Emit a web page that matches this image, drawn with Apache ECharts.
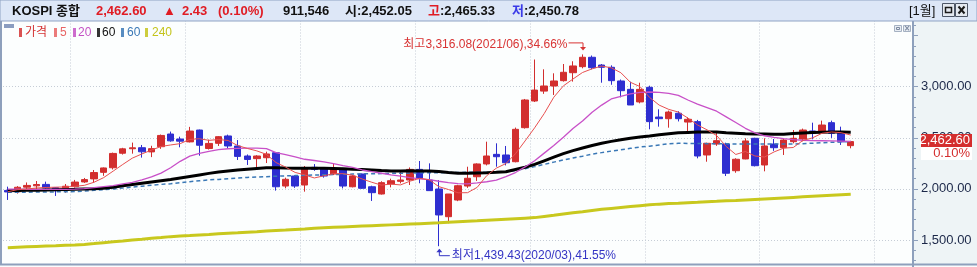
<!DOCTYPE html>
<html><head><meta charset="utf-8">
<script src="https://cdn.jsdelivr.net/npm/echarts@6/dist/echarts.min.js"></script>
<style>html,body{margin:0;padding:0;background:#fff;}#c{width:977px;height:267px;}</style>
</head><body><div id="c"></div>
<script>
// ---------- data (monthly KOSPI, 2016/06 .. 2023/10) ----------
const months = [
 '2016/06','2016/07','2016/08','2016/09','2016/10','2016/11','2016/12',
 '2017/01','2017/02','2017/03','2017/04','2017/05','2017/06','2017/07','2017/08','2017/09','2017/10','2017/11','2017/12',
 '2018/01','2018/02','2018/03','2018/04','2018/05','2018/06','2018/07','2018/08','2018/09','2018/10','2018/11','2018/12',
 '2019/01','2019/02','2019/03','2019/04','2019/05','2019/06','2019/07','2019/08','2019/09','2019/10','2019/11','2019/12',
 '2020/01','2020/02','2020/03','2020/04','2020/05','2020/06','2020/07','2020/08','2020/09','2020/10','2020/11','2020/12',
 '2021/01','2021/02','2021/03','2021/04','2021/05','2021/06','2021/07','2021/08','2021/09','2021/10','2021/11','2021/12',
 '2022/01','2022/02','2022/03','2022/04','2022/05','2022/06','2022/07','2022/08','2022/09','2022/10','2022/11','2022/12',
 '2023/01','2023/02','2023/03','2023/04','2023/05','2023/06','2023/07','2023/08','2023/09','2023/10'];
const emptyMonths = ['2023/11','2023/12','2024/01','2024/02','2024/03','2024/04'];
const opens = [1985,1971,2017,2030,2044,2012,1985,2022,2068,2098,
 2162,2207,2349,2393,2403,2362,2413,2537,2488,2460,
 2576,2395,2446,2518,2420,2322,2296,2305,2354,2028,
 2126,2038,2211,2201,2146,2191,2021,2146,2021,1950,
 2048,2074,2087,2191,2087,1999,1728,1891,2028,2119,
 2244,2338,2332,2266,2599,2860,2957,3007,3059,3137,
 3196,3288,3212,3190,3056,2974,2851,2994,2703,2687,
 2740,2654,2658,2332,2439,2439,2178,2293,2495,2234,
 2439,2403,2462,2488,2567,2567,2648,2544,2423];
const highs = [2022,2027,2063,2077,2071,2015,2048,2088,2107,2185,
 2210,2355,2402,2453,2430,2422,2532,2561,2511,2607,
 2580,2482,2517,2531,2478,2337,2330,2364,2356,2110,
 2135,2224,2243,2210,2252,2205,2135,2150,2031,2075,
 2100,2168,2210,2273,2250,2087,1950,2040,2217,2250,
 2462,2446,2420,2600,2880,3266,3170,3131,3222,3249,
 3316.08,3305,3222,3209,3070,3049,3039,3010,2779,2766,
 2760,2701,2675,2452,2550,2452,2300,2495,2500,2495,
 2488,2489,2576,2590,2648,2668,2668,2609,2470];
const lows = [1892,1954,1983,1993,2000,1931,1963,2012,2059,2061,
 2128,2190,2336,2345,2306,2311,2392,2462,2407,2455,
 2325,2385,2420,2395,2283,2234,2204,2253,1983,2006,
 2010,1973,2177,2110,2135,2005,2015,2000,1882,1945,
 2015,2054,2038,2055,1983,1439.43,1664,1880,2010,2078,
 2230,2217,2230,2260,2590,2850,2930,2919,3050,3050,
 3180,3170,3039,3019,2896,2821,2837,2583,2609,2599,
 2660,2544,2299,2266,2421,2126,2158,2290,2220,2172,
 2372,2332,2446,2465,2485,2544,2499,2430,2397];
const closes = [1970,2016,2034,2043,2008,1983,2026,2067,2091,2160,
 2205,2347,2392,2402,2363,2394,2523,2470,2467,2566,
 2427,2445,2511,2420,2318,2288,2322,2342,2021,2094,
 2028,2201,2190,2126,2201,2028,2126,2006,1963,2061,
 2080,2087,2191,2103,1983,1745,1950,2031,2104,2244,
 2322,2315,2256,2583,2870,2967,3007,3056,3141,3203,
 3288,3186,3190,3059,2961,2821,2974,2658,2687,2752,
 2687,2681,2322,2446,2472,2153,2290,2469,2227,2420,
 2403,2478,2495,2576,2544,2625,2544,2460,2462.60];
const ma5 = [1972,1992,1999,2009,2014,2017,2019,2025,2035,2065,
 2110,2174,2239,2301,2342,2380,2415,2430,2443,2484,
 2491,2475,2483,2474,2424,2396,2372,2338,2258,2213,
 2161,2137,2107,2128,2149,2149,2134,2097,2065,2037,
 2047,2039,2076,2104,2089,2022,1994,1962,1963,2015,
 2130,2203,2248,2344,2469,2598,2737,2897,3008,3075,
 3139,3175,3202,3185,3137,3043,3001,2895,2820,2778,
 2752,2693,2626,2578,2522,2415,2337,2366,2322,2312,
 2362,2399,2405,2474,2499,2544,2557,2550,2527];
const ma20 = [1998,1997,1996,1996,1996,1996,1996,1997,2003,2012,
 2022,2032,2049,2064,2088,2118,2155,2207,2270,2320,
 2348,2368,2384,2393,2397,2398,2398,2394,2355,2335,
 2314,2290,2278,2264,2247,2228,2210,2185,2168,2153,
 2138,2125,2110,2098,2090,2075,2062,2052,2050,2058,
 2070,2085,2120,2160,2215,2275,2350,2425,2505,2590,
 2665,2750,2820,2880,2905,2930,2945,2948,2945,2935,
 2915,2870,2830,2795,2760,2705,2650,2593,2548,2520,
 2505,2492,2482,2476,2472,2471,2470,2468,2465];
const ma60 = [1982,1984,1986,1988,1990,1992,1994,1996,1999,2002,
 2006,2017,2030,2043,2056,2068,2080,2092,2107,2122,
 2137,2152,2165,2175,2184,2192,2200,2206,2206,2204,
 2203,2203,2203,2202,2200,2197,2193,2190,2186,2180,
 2176,2174,2178,2176,2175,2170,2160,2153,2152,2155,
 2158,2162,2168,2190,2212,2240,2275,2310,2345,2375,
 2400,2425,2447,2465,2480,2495,2508,2518,2530,2540,
 2550,2553,2556,2557,2556,2550,2545,2540,2538,2536,
 2534,2534,2542,2548,2552,2555,2557,2556,2554];
const ma60b = [1967,1967,1968,1969,1970,1971,1972,1974,1978,1986,
 1993,1999,2008,2018,2027,2036,2044,2050,2060,2070,
 2080,2088,2093,2100,2107,2112,2116,2120,2124,2127,
 2130,2133,2136,2138,2140,2143,2145,2147,2148,2150,
 2152,2153,2155,2157,2158,2159,2160,2161,2162,2163,
 2164,2164,2165,2180,2198,2218,2240,2262,2283,2302,
 2320,2340,2355,2370,2383,2397,2410,2418,2430,2442,
 2446,2445,2444,2443,2442,2441,2440,2439,2439,2439,
 2439,2439,2439,2442,2447,2452,2456,2460,2463];
const ma240 = [1425,1429,1433,1437,1441,1444,1448,1452,1457,1465,
 1474,1482,1490,1499,1507,1516,1524,1533,1538,1543,
 1549,1554,1560,1565,1570,1576,1581,1587,1592,1597,
 1603,1608,1614,1619,1624,1628,1632,1636,1640,1644,
 1648,1652,1656,1660,1664,1668,1673,1678,1683,1688,
 1694,1699,1704,1709,1714,1719,1731,1742,1754,1766,
 1777,1789,1800,1809,1818,1827,1836,1845,1851,1856,
 1860,1865,1869,1874,1878,1883,1887,1892,1897,1902,
 1907,1912,1917,1922,1927,1932,1937,1942,1947];
const yTickLabels = [1500, 2000, 2500, 3000];
const lastPrice = 2462.60, change = 2.43, changePct = 0.10, volume = 911546;
const dayOpen = 2452.05, dayHigh = 2465.33, dayLow = 2450.78;
const title = 'KOSPI 종합', period = '[1월]';
const legendItems = [['가격','#d43434'],['5','#e86464'],['20','#c452c4'],['60','#111111'],['60','#3a78b6'],['240','#c4c41c']];

// ---------- chart ----------
const fmt = v => Number(v).toLocaleString('en-US',{minimumFractionDigits:2,maximumFractionDigits:2});
const cats = months.concat(emptyMonths);
const candle = months.map((m,i)=>[opens[i], closes[i], lows[i], highs[i]]);
const Y0 = 1000, Y1 = 4000, YI = 500;
const pxPerUnit = (240 - 86.7) / 1500;
const gridTop = 86.7 - (Y1 - 3000) * pxPerUnit;
const gridBottom = 267 - (240 + (1500 - Y0) * pxPerUnit);
const GRIDC = '#c6cdd6', TRANSP = 'rgba(0,0,0,0)';
const splitColors = [];
for (let v = Y0; v <= Y1; v += YI) splitColors.push(yTickLabels.includes(v) ? GRIDC : TRANSP);
const AX = '#8ea0bc';

const chart = echarts.init(document.getElementById('c'), null, {renderer:'canvas', width:977, height:267});
chart.setOption({
  backgroundColor:'#fcfefe',
  animation:false,
  grid:{left:3, right:64, top:gridTop, bottom:gridBottom, outerBoundsMode:'none', containLabel:false},
  xAxis:{type:'category', data:cats, boundaryGap:true,
    axisLine:{show:false}, axisTick:{show:false}, axisLabel:{show:false},
    splitLine:{show:true, interval:(i,v)=> typeof v === 'string' && v.slice(5) === '01',
      lineStyle:{color:GRIDC, width:1, type:[1,2]}}},
  yAxis:{type:'value', position:'right', min:Y0, max:Y1, interval:YI,
    axisLine:{show:true, lineStyle:{color:AX, width:2}},
    axisTick:{show:true, length:5, lineStyle:{color:AX}},
    minorTick:{show:true, splitNumber:5, length:3, lineStyle:{color:AX}},
    axisLabel:{margin:8, color:'#1b2748', fontSize:13, fontFamily:'"Liberation Sans",sans-serif',
      formatter:v => yTickLabels.includes(v) ? fmt(v) : ''},
    splitLine:{show:true, showMinLine:true, showMaxLine:true, lineStyle:{color:splitColors, width:1, type:[1,2]}}},
  series:[
    {name:'가격', type:'candlestick', data:candle, barWidth:7,
     itemStyle:{color:'#d22e2e', color0:'#2e2ed0', borderColor:'#d22e2e', borderColor0:'#2e2ed0', borderWidth:1}},
    {name:'240', type:'line', data:ma240, symbol:'none', lineStyle:{color:'#c8c81e', width:3}},
    {name:'60b', type:'line', data:ma60b, symbol:'none', lineStyle:{color:'#3a78b6', width:1.5, type:[4,3]}},
    {name:'60', type:'line', data:ma60, symbol:'none', lineStyle:{color:'#000000', width:3}},
    {name:'20', type:'line', data:ma20, symbol:'none', lineStyle:{color:'#c850c8', width:1.3}},
    {name:'5', type:'line', data:ma5, symbol:'none', lineStyle:{color:'#e85050', width:1}}
  ]
});

// ---------- overlays ----------
const toPx = (i, v) => chart.convertToPixel({gridIndex:0}, [i, v]);
const F13B = 'bold 13px "Liberation Sans","Noto Sans CJK KR",sans-serif';
const F12 = '12px "Liberation Sans","Noto Sans CJK KR",sans-serif';
const F13 = '13px "Liberation Sans","Noto Sans CJK KR",sans-serif';
const RED = '#e01c24', BLK = '#111111', BLU = '#3a3ae8';
const T = (x, y, text, fill, font, align, z) => ({type:'text', x, y, z:z||110,
  style:{text, fill, font, align:align||'left', verticalAlign:'middle'}});
const els = [];
els.push({type:'rect', z:-5, shape:{x:914, y:21, width:63, height:244}, style:{fill:'#eef4f6'}});
els.push({type:'rect', z:100, shape:{x:0, y:0, width:977, height:21}, style:{fill:'#dde7f7', stroke:'#8fa3c4', lineWidth:1}});
els.push(T(12,11,title,BLK,F13B));
els.push(T(96,11,fmt(lastPrice),RED,F13B));
els.push(T(163,11,'▲',RED,F13B));
els.push(T(182,11,change.toFixed(2),RED,F13B));
els.push(T(218,11,'('+changePct.toFixed(2)+'%)',RED,F13B));
els.push(T(283,11,volume.toLocaleString('en-US'),BLK,F13B));
els.push(T(345,11,'시:'+fmt(dayOpen),BLK,F13B));
els.push(T(428,11,'고',RED,F13B));
els.push(T(440,11,':'+fmt(dayHigh),BLK,F13B));
els.push(T(512,11,'저',BLU,F13B));
els.push(T(524,11,':'+fmt(dayLow),BLK,F13B));
els.push(T(909,11,period,BLK,F13));
[942,955].forEach((bx,k)=>{
  els.push({type:'rect', z:105, shape:{x:bx+0.5, y:3.5, width:12, height:13}, style:{fill:'#e4e9f0', stroke:'#4d5666', lineWidth:1}});
  if (k===0) els.push({type:'rect', z:106, shape:{x:bx+3.5, y:7.5, width:6, height:5}, style:{fill:'none', stroke:'#1a1a1a', lineWidth:1.5}});
  else {
    els.push({type:'line', z:106, shape:{x1:bx+3.5, y1:6.5, x2:bx+9.5, y2:13.5}, style:{stroke:'#1a1a1a', lineWidth:2}});
    els.push({type:'line', z:106, shape:{x1:bx+9.5, y1:6.5, x2:bx+3.5, y2:13.5}, style:{stroke:'#1a1a1a', lineWidth:2}});
  }
});
els.push({type:'rect', z:105, shape:{x:4, y:24, width:10, height:4}, style:{fill:'#8b9dc0'}});
[894,903].forEach((bx,k)=>{
  els.push({type:'rect', z:105, shape:{x:bx+0.5, y:25.5, width:7, height:6}, style:{fill:'#e8edf3', stroke:'#a5b1c2', lineWidth:1}});
  if (k===0) els.push({type:'rect', z:106, shape:{x:bx+2.5, y:27.5, width:3, height:2}, style:{fill:'none', stroke:'#7d8aa0', lineWidth:1}});
  else els.push({type:'text', z:106, x:bx+4, y:28.5, style:{text:'×', fill:'#7d8aa0', font:'bold 8px "DejaVu Sans"', align:'center', verticalAlign:'middle'}});
});
const legendX = [[19,25],[54,60],[73,78],[97,102],[121,127],[145,152]];
legendItems.forEach((it,k)=>{
  els.push({type:'rect', z:105, shape:{x:legendX[k][0], y:28, width:3, height:9}, style:{fill:it[1], opacity:0.85}});
  els.push(T(legendX[k][1], 33, it[0], it[1], F12));
});
els.push({type:'rect', z:100, shape:{x:0, y:265, width:977, height:2}, style:{fill:'#fbfcfd'}});
els.push({type:'line', z:101, shape:{x1:0, y1:264.5, x2:977, y2:264.5}, style:{stroke:AX, lineWidth:2}});
els.push({type:'line', z:101, shape:{x1:1, y1:21, x2:1, y2:264}, style:{stroke:AX, lineWidth:2}});
els.push({type:'line', z:101, shape:{x1:913, y1:264, x2:913, y2:267}, style:{stroke:AX, lineWidth:2}});

let hi = 0, lo = 0;
highs.forEach((v,i)=>{ if (v > highs[hi]) hi = i; });
lows.forEach((v,i)=>{ if (v < lows[lo]) lo = i; });
const last = closes[closes.length-1];
const ph = toPx(hi, highs[hi]);
const pl = toPx(lo, lows[lo]);
const hiText = '최고' + fmt(highs[hi]) + '(' + months[hi] + '),' + ((highs[hi]-last)/last*100).toFixed(2) + '%';
const loText = '최저' + fmt(lows[lo]) + '(' + months[lo] + '),' + ((last-lows[lo])/last*100).toFixed(2) + '%';
const HRED = '#d83434', LBLU = '#3434c4';
els.push(T(ph[0]-15, ph[1]-9.5, hiText, HRED, F12, 'right', 90));
els.push({type:'polyline', z:90, shape:{points:[[ph[0]-14, ph[1]-11.5],[ph[0]+0.5, ph[1]-11.5],[ph[0]+0.5, ph[1]-7]]}, style:{stroke:HRED, lineWidth:1, fill:'none'}});
els.push({type:'polygon', z:90, shape:{points:[[ph[0]-2.5, ph[1]-7.5],[ph[0]+3.5, ph[1]-7.5],[ph[0]+0.5, ph[1]-4]]}, style:{fill:HRED}});
els.push(T(pl[0]+13, pl[1]+9.5, loText, LBLU, F12, 'left', 90));
els.push({type:'polyline', z:90, shape:{points:[[pl[0]+0.5, pl[1]+5],[pl[0]+0.5, pl[1]+9.5],[pl[0]+11, pl[1]+9.5]]}, style:{stroke:LBLU, lineWidth:1, fill:'none'}});
els.push({type:'polygon', z:90, shape:{points:[[pl[0]-2.5, pl[1]+6],[pl[0]+3.5, pl[1]+6],[pl[0]+0.5, pl[1]+2.5]]}, style:{fill:LBLU}});

const pp = toPx(months.length-1, last);
els.push({type:'rect', z:120, shape:{x:921, y:pp[1]-7.5, width:51, height:13}, style:{fill:'#d42e2e'}});
els.push(T(970, pp[1]-1, fmt(last), '#ffffff', F13, 'right', 121));
els.push({type:'rect', z:120, shape:{x:921, y:pp[1]+5.5, width:51, height:13}, style:{fill:'#ffffff'}});
els.push(T(970, pp[1]+12, changePct.toFixed(2)+'%', '#d42e2e', F13, 'right', 121));

chart.setOption({graphic:{elements:els}});
</script>
</body></html>
